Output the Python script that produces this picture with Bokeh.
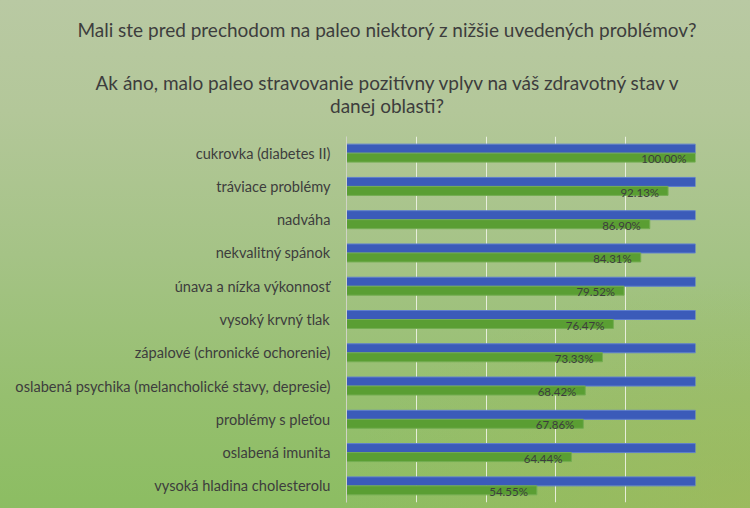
from bokeh.plotting import figure
from bokeh.layouts import column
from bokeh.models import Range1d, FactorRange, FixedTicker, ColumnDataSource, InlineStyleSheet, Div
from bokeh.transform import dodge
from bokeh.core.properties import value
from bokeh.embed import file_html
from bokeh.resources import INLINE

categories = [
    "cukrovka (diabetes II)",
    "tráviace problémy",
    "nadváha",
    "nekvalitný spánok",
    "únava a nízka výkonnosť",
    "vysoký krvný tlak",
    "zápalové (chronické ochorenie)",
    "oslabená psychika (melancholické stavy, depresie)",
    "problémy s pleťou",
    "oslabená imunita",
    "vysoká hladina cholesterolu",
]
had_problem = [100, 100, 100, 100, 100, 100, 100, 100, 100, 100, 100]
improved = [100.00, 92.13, 86.90, 84.31, 79.52, 76.47, 73.33, 68.42, 67.86, 64.44, 54.55]
value_labels = [f"{v:.2f}%" for v in improved]
x_ticks = [0, 20, 40, 60, 80, 100]
title_lines = [
    "Mali ste pred prechodom na paleo niektorý z nižšie uvedených problémov?",
    "Ak áno, malo paleo stravovanie pozitívny vplyv na váš zdravotný stav v",
    "danej oblasti?",
]

FONT = "Lato"
TXT = "#3d3d3d"
W = 750
TITLE_H = 136
CHART_H = 508 - TITLE_H

# ---- title strip (real text) ----
line_tops = [18, 71, 94]
html = "".join(
    f'<div style="position:absolute;left:0;width:774px;top:{top}px;text-align:center;'
    f'line-height:24px;white-space:nowrap">{txt}</div>'
    for txt, top in zip(title_lines, line_tops)
)
title_div = Div(
    text=f'<div style="position:relative;width:{W}px;height:{TITLE_H}px;font-family:Lato;'
         f'font-size:19px;color:{TXT}">{html}</div>',
    width=W, height=TITLE_H, margin=0,
)

# ---- bar chart ----
source = ColumnDataSource(dict(cat=categories, blue=had_problem, green=improved, label=value_labels))

p = figure(
    width=W, height=CHART_H,
    x_range=Range1d(0, 100),
    y_range=FactorRange(factors=categories[::-1], range_padding=0),
    output_backend="svg", toolbar_location=None,
    min_border_left=346, min_border_right=55, min_border_top=0, min_border_bottom=6,
    margin=0,
)
p.border_fill_alpha = 0
p.background_fill_alpha = 0
p.outline_line_color = None
p.title.visible = False

p.hbar(y=dodge("cat", 0.135, range=p.y_range), right="blue", height=0.27, source=source,
       fill_color="#3b5bb9", line_color="#5f7fce", line_width=1)
p.hbar(y=dodge("cat", -0.135, range=p.y_range), right="green", height=0.27, source=source,
       fill_color="#5a9e33", line_color="#74ad52", line_width=1)
p.text(x="green", y=dodge("cat", -0.17, range=p.y_range), text="label", source=source,
       text_align="right", text_baseline="middle", x_offset=-9,
       text_font=value(FONT), text_font_size="11.5px", text_color=TXT)

p.xaxis.visible = False
p.xgrid.ticker = FixedTicker(ticks=x_ticks)
p.xgrid.grid_line_color = "#eef2e6"
p.xgrid.grid_line_alpha = 0.9
p.ygrid.grid_line_color = None

ya = p.yaxis[0]
ya.axis_line_color = "#cfd3c6"
ya.major_tick_line_color = None
ya.major_tick_out = 0
ya.major_tick_in = 0
ya.major_label_standoff = 16
ya.major_label_text_font = FONT
ya.major_label_text_font_size = "14.6px"
ya.major_label_text_color = TXT

css = InlineStyleSheet(css="""
:host {
  background:
    radial-gradient(ellipse 55% 45% at 100% 100%, rgba(168,184,90,0.55), rgba(168,184,90,0) 100%),
    linear-gradient(to bottom, #b9c9a3 0%, #b3c799 22%, #a5c386 50%, #96bf6f 78%, #8cbd62 100%);
}
""")
page = column(title_div, p, spacing=0, margin=0)
page.stylesheets = [css]

open("out.html", "w").write(file_html(page, INLINE))
